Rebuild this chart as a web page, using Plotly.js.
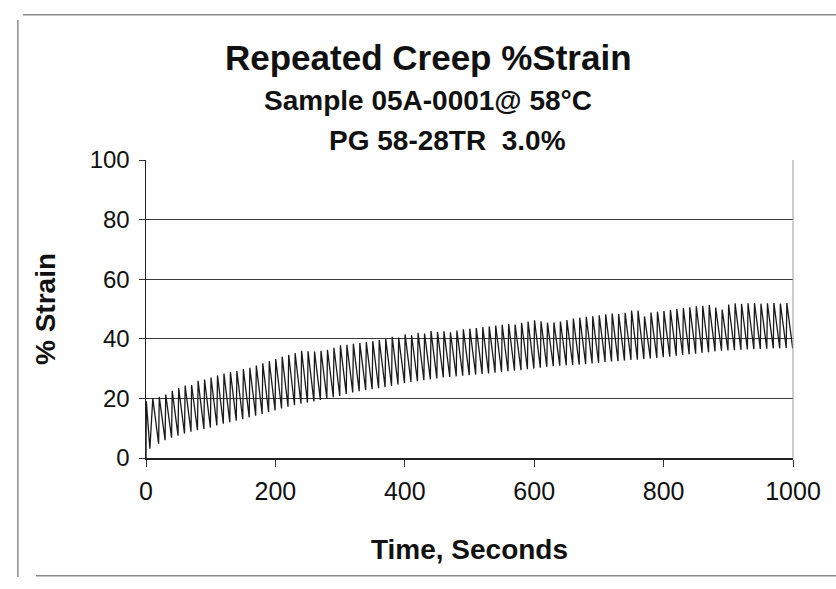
<!DOCTYPE html>
<html>
<head>
<meta charset="utf-8">
<script src="https://cdn.plot.ly/plotly-3.0.1.min.js"></script>
<style>html,body{margin:0;padding:0;background:#fff;}#chart{width:836px;height:589px;}</style>
</head>
<body>
<div id="chart"></div>
<script>
// ---- data ----
const startTime = 0;
const startStrain = 0;
const peakTimes = [0.5,10.5,20.5,30.5,40.5,50.5,60.5,70.5,80.5,90.5,100.5,110.5,120.5,130.5,140.5,150.5,160.5,170.5,180.5,190.5,200.5,210.5,220.5,230.5,240.5,250.5,260.5,270.5,280.5,290.5,300.5,310.5,320.5,330.5,340.5,350.5,360.5,370.5,380.5,390.5,400.5,410.5,420.5,430.5,440.5,450.5,460.5,470.5,480.5,490.5,500.5,510.5,520.5,530.5,540.5,550.5,560.5,570.5,580.5,590.5,600.5,610.5,620.5,630.5,640.5,650.5,660.5,670.5,680.5,690.5,700.5,710.5,720.5,730.5,740.5,750.5,760.5,770.5,780.5,790.5,800.5,810.5,820.5,830.5,840.5,850.5,860.5,870.5,880.5,890.5,900.5,910.5,920.5,930.5,940.5,950.5,960.5,970.5,980.5,990.5];
const peakStrain = [19,20,20.5,21.3,22.5,23.5,24.3,24.5,25.9,26.3,27,27.7,28.3,28.8,29.2,29.8,30.3,31,31.8,32.5,33.2,34,34.6,35.2,36,35.8,35.7,36,36.3,37,37.8,38,38.3,38.6,38.9,39.2,39.6,40,40.7,40.4,41.5,41.2,42,41.8,42.6,42.3,42.5,42.2,42.8,43.2,43.4,43.6,43.9,44.1,44.4,44.7,45,44.8,45.4,45.8,46.2,45.9,45.4,45.5,45.8,46.3,46.8,47.1,47.4,47.6,47.9,48.2,48.5,48.3,48.7,49.5,49.5,47.5,48.8,49.1,49.3,49.7,50,50.3,50.6,50.9,51.1,51.3,50.5,49.8,51.5,51.9,51.7,51.9,52,51.8,51.9,52,51.8,52];
const troughTimes = [6,19.5,29.5,39.5,49.5,59.5,69.5,79.5,89.5,99.5,109.5,119.5,129.5,139.5,149.5,159.5,169.5,179.5,189.5,199.5,209.5,219.5,229.5,239.5,249.5,259.5,269.5,279.5,289.5,299.5,309.5,319.5,329.5,339.5,349.5,359.5,369.5,379.5,389.5,399.5,409.5,419.5,429.5,439.5,449.5,459.5,469.5,479.5,489.5,499.5,509.5,519.5,529.5,539.5,549.5,559.5,569.5,579.5,589.5,599.5,609.5,619.5,629.5,639.5,649.5,659.5,669.5,679.5,689.5,699.5,709.5,719.5,729.5,739.5,749.5,759.5,769.5,779.5,789.5,799.5,809.5,819.5,829.5,839.5,849.5,859.5,869.5,879.5,889.5,899.5,909.5,919.5,929.5,939.5,949.5,959.5,969.5,979.5,989.5,999.5];
const troughStrain = [3.1,4.8,6,6.8,7.5,8.2,8.8,9.3,9.7,10.2,10.9,11.5,12,12.5,13,13.6,14.2,14.8,15.4,16,16.6,17.2,17.7,18.2,18.6,19,19.5,20,20.4,20.8,21.5,22,22.4,22.8,23.1,23.4,23.8,24.2,24.7,25.1,25.5,25.8,26.1,26.4,26.7,27,27.2,27.4,27.6,27.8,28,28.2,28.4,28.6,28.9,29.1,29.3,29.5,29.8,30,30.3,30.6,30.8,31,31.1,31.2,31.3,31.5,31.7,31.9,32.2,32.4,32.5,32.7,32.9,33,33.2,33.4,33.6,33.8,34,34.3,34.6,34.8,35,35.3,35.5,35.8,36,36.1,36.2,36.3,36.4,36.5,36.6,36.7,36.8,36.8,36.9,36.8];
const xTicks = [0,200,400,600,800,1000];
const yTicks = [0,20,40,60,80,100];
const titleLines = ["Repeated Creep %Strain", "Sample 05A-0001@ 58°C", "PG 58-28TR\u00a0\u00a03.0%"];
const xTitle = "Time, Seconds";
const yTitle = "% Strain";

// ---- build the series ----
const xs = [startTime], ys = [startStrain];
for (let i = 0; i < peakTimes.length; i++) {
  xs.push(peakTimes[i]); ys.push(peakStrain[i]);
  xs.push(troughTimes[i]); ys.push(troughStrain[i]);
}

const FONT = "Liberation Sans, Arial, Helvetica, sans-serif";
const trace = {
  x: xs, y: ys, type: 'scatter', mode: 'lines',
  line: {color: '#1a1a1a', width: 1.3},
  hoverinfo: 'skip', showlegend: false
};

const frame = '#8a8a8a';
const layout = {
  width: 836, height: 589,
  margin: {l: 146, r: 43, t: 160, b: 131},
  paper_bgcolor: '#ffffff', plot_bgcolor: '#ffffff',
  font: {family: FONT, color: '#111'},
  showlegend: false,
  xaxis: {
    range: [0, 1000], tickvals: xTicks, ticktext: xTicks.map(String),
    ticks: 'outside', ticklen: 7, tickcolor: '#333', tickwidth: 1,
    showline: true, linecolor: '#222', linewidth: 1.5,
    showgrid: false, zeroline: false,
    tickfont: {family: FONT, size: 25, color: '#111'},
    ticklabelstandoff: 3,
    title: {text: '<b>' + xTitle + '</b>', font: {family: FONT, size: 28, color: '#111'}, standoff: 36}
  },
  yaxis: {
    range: [0, 100], tickvals: yTicks, ticktext: yTicks.map(String),
    ticks: 'outside', ticklen: 6, tickcolor: '#333', tickwidth: 1,
    showline: true, linecolor: '#222', linewidth: 1.5,
    showgrid: true, gridcolor: '#3a3a3a', gridwidth: 1,
    zeroline: false,
    tickfont: {family: FONT, size: 24, color: '#111'},
    ticklabelstandoff: 4,
    title: {text: '<b>' + yTitle + '</b>', font: {family: FONT, size: 28, color: '#111'}, standoff: 26}
  },
  annotations: [
    {text: '<b>' + titleLines[0] + '</b>', xref: 'paper', yref: 'paper', x: 0.436, y: 1.345, xanchor: 'center', yanchor: 'middle', showarrow: false, font: {family: FONT, size: 35, color: '#111'}},
    {text: '<b>' + titleLines[1] + '</b>', xref: 'paper', yref: 'paper', x: 0.436, y: 1.198, xanchor: 'center', yanchor: 'middle', showarrow: false, font: {family: FONT, size: 28, color: '#111'}},
    {text: '<b>' + titleLines[2] + '</b>', xref: 'paper', yref: 'paper', x: 0.466, y: 1.067, xanchor: 'center', yanchor: 'middle', showarrow: false, font: {family: FONT, size: 28, color: '#111'}}
  ],
  shapes: [
    {type: 'line', xref: 'paper', yref: 'paper', x0: 1, x1: 1, y0: 0, y1: 1, line: {color: '#9a9a9a', width: 1}},
    {type: 'line', xref: 'paper', yref: 'paper', x0: -0.19, x1: 1.07, y0: 1.487, y1: 1.487, line: {color: frame, width: 1.5}},
    {type: 'line', xref: 'paper', yref: 'paper', x0: -0.198, x1: -0.198, y0: 1.47, y1: -0.399, line: {color: frame, width: 1.5}},
    {type: 'line', xref: 'paper', yref: 'paper', x0: -0.17, x1: 1.07, y0: -0.395, y1: -0.395, line: {color: frame, width: 1.5}}
  ]
};

Plotly.newPlot('chart', [trace], layout, {displayModeBar: false, staticPlot: true});
</script>
</body>
</html>
